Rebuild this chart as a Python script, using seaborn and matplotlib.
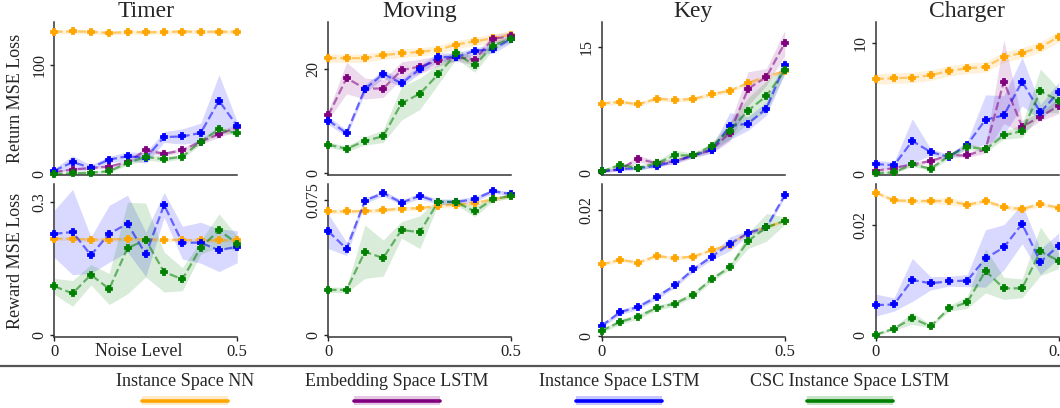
import matplotlib
matplotlib.use("Agg")
import matplotlib.pyplot as plt
import pandas as pd
import seaborn as sns
from matplotlib.lines import Line2D
from matplotlib.patches import Rectangle
from matplotlib.colors import to_rgba

sns.set_theme(style="ticks")
plt.rcParams["font.family"] = ["Liberation Serif", "DejaVu Serif"]

# ---------------------------------------------------------------- data
noise = [0.0, 0.05, 0.10, 0.15, 0.20, 0.25, 0.30, 0.35, 0.40, 0.45, 0.50]

methods = ["Instance Space NN", "Embedding Space LSTM",
           "Instance Space LSTM", "CSC Instance Space LSTM"]
colors = ["orange", "purple", "blue", "green"]
envs = ["Timer", "Moving", "Key", "Charger"]

# Timer -- return loss (mean, half-width of band)
timer_ret_nn = [131.0, 131.3, 131.0, 129.8, 130.8, 130.5, 130.8, 131.2, 131.0, 131.0, 131.0]
timer_ret_nn_sd = [2.0] * 11
timer_ret_emb = [1.8, 4.0, 5.5, 6.8, 11.0, 21.8, 18.5, 21.8, 29.8, 36.6, 42.8]
timer_ret_emb_sd = [1.0, 1.5, 1.5, 1.5, 2.0, 2.5, 2.0, 2.0, 2.5, 3.0, 3.0]
timer_ret_lstm = [3.0, 10.8, 5.8, 13.2, 16.3, 14.8, 34.0, 34.5, 37.8, 67.4, 44.0]
timer_ret_lstm_sd = [2.0, 6.0, 2.5, 3.0, 4.0, 5.0, 5.0, 7.0, 9.0, 24.0, 4.0]
timer_ret_csc = [0.0, 0.6, 1.2, 2.5, 10.0, 15.7, 13.5, 16.0, 29.8, 41.0, 37.5]
timer_ret_csc_sd = [0.8, 1.0, 1.0, 1.5, 2.0, 3.0, 2.5, 2.0, 2.5, 3.0, 2.0]

# Timer -- reward loss
timer_rew_nn = [0.217, 0.217, 0.215, 0.215, 0.217, 0.215, 0.215, 0.214, 0.214, 0.213, 0.214]
timer_rew_nn_sd = [0.004] * 11
timer_rew_lstm = [0.228, 0.232, 0.180, 0.228, 0.251, 0.182, 0.293, 0.208, 0.208, 0.191, 0.199]
timer_rew_lstm_sd = [0.053, 0.096, 0.041, 0.064, 0.064, 0.050, 0.028, 0.037, 0.046, 0.048, 0.036]
timer_rew_csc = [0.110, 0.094, 0.136, 0.104, 0.196, 0.214, 0.142, 0.126, 0.197, 0.236, 0.206]
timer_rew_csc_sd = [0.018, 0.029, 0.023, 0.035, 0.103, 0.083, 0.045, 0.026, 0.015, 0.037, 0.017]

# Moving -- return loss
moving_ret_nn = [22.0, 22.0, 22.0, 22.6, 22.9, 23.2, 23.6, 24.6, 25.2, 25.8, 26.5]
moving_ret_nn_sd = [0.8] * 11
moving_ret_emb = [11.1, 18.2, 16.2, 16.2, 19.7, 20.4, 21.5, 22.2, 21.7, 25.7, 26.2]
moving_ret_emb_sd = [0.8, 3.0, 2.0, 1.7, 1.6, 1.4, 1.0, 0.8, 1.0, 0.8, 0.8]
moving_ret_lstm = [10.1, 7.7, 16.1, 19.0, 17.2, 19.9, 22.2, 22.2, 23.4, 23.7, 25.7]
moving_ret_lstm_sd = [0.8, 0.6, 0.8, 0.8, 0.8, 0.8, 0.8, 0.8, 0.6, 0.8, 0.8]
moving_ret_csc = [5.5, 4.7, 6.2, 7.1, 13.4, 15.2, 18.9, 22.9, 20.6, 24.4, 25.7]
moving_ret_csc_sd = [0.5, 0.5, 0.8, 1.2, 3.2, 3.0, 1.9, 1.0, 1.3, 0.8, 0.6]

# Moving -- reward loss
moving_rew_nn = [0.0686, 0.0686, 0.0688, 0.0693, 0.0702, 0.0704, 0.0717, 0.0724, 0.0732, 0.0754, 0.0772]
moving_rew_nn_sd = [0.0012] * 11
moving_rew_lstm = [0.0576, 0.0479, 0.0746, 0.0787, 0.0735, 0.0772, 0.0739, 0.0739, 0.0754, 0.0799, 0.0781]
moving_rew_lstm_sd = [0.0096, 0.0037, 0.0015, 0.0015, 0.0015, 0.0015, 0.0015, 0.0015, 0.0015, 0.0012, 0.0012]
moving_rew_csc = [0.0252, 0.0252, 0.0463, 0.0428, 0.0584, 0.0571, 0.0739, 0.0737, 0.0686, 0.0754, 0.0772]
moving_rew_csc_sd = [0.0015, 0.0015, 0.0148, 0.0100, 0.0046, 0.0091, 0.0016, 0.0015, 0.0029, 0.0012, 0.0012]

# Key -- return loss
key_ret_nn = [8.25, 8.44, 8.17, 8.83, 8.68, 8.79, 9.34, 9.78, 10.68, 11.43, 12.1]
key_ret_nn_sd = [0.25] * 11
key_ret_emb = [0.24, 0.47, 1.73, 1.18, 1.41, 2.12, 2.75, 4.79, 10.0, 11.4, 15.4]
key_ret_emb_sd = [0.15, 0.2, 0.4, 0.3, 0.3, 0.3, 0.4, 1.0, 2.0, 1.0, 1.5]
key_ret_lstm = [0.24, 0.47, 0.63, 0.86, 1.41, 2.12, 2.75, 5.58, 5.89, 7.66, 12.76]
key_ret_lstm_sd = [0.15, 0.2, 0.2, 0.2, 0.2, 0.2, 0.3, 1.6, 0.8, 0.8, 1.0]
key_ret_csc = [0.24, 0.98, 0.63, 1.18, 2.12, 2.12, 3.22, 5.06, 7.42, 9.15, 12.17]
key_ret_csc_sd = [0.15, 0.3, 0.3, 0.3, 0.6, 0.3, 0.4, 1.0, 1.5, 1.8, 0.4]

# Key -- reward loss
key_rew_nn = [0.01132, 0.01205, 0.01163, 0.01268, 0.01232, 0.01258, 0.01358, 0.01447, 0.01632, 0.01721, 0.01826]
key_rew_nn_sd = [0.0003] * 11
key_rew_lstm = [0.00158, 0.00374, 0.00458, 0.00616, 0.0080, 0.01053, 0.01253, 0.01458, 0.01632, 0.01721, 0.02232]
key_rew_lstm_sd = [0.0003, 0.0004, 0.0004, 0.0004, 0.0004, 0.0004, 0.0005, 0.0011, 0.0004, 0.0004, 0.0004]
key_rew_csc = [0.00079, 0.00221, 0.00305, 0.00442, 0.00511, 0.00653, 0.00895, 0.01089, 0.01505, 0.01721, 0.01826]
key_rew_csc_sd = [0.0003, 0.0004, 0.0004, 0.0004, 0.0004, 0.0004, 0.0004, 0.0004, 0.0012, 0.0022, 0.0006]

# Charger -- return loss
charger_ret_nn = [7.24, 7.30, 7.35, 7.53, 7.86, 8.06, 8.16, 8.93, 9.23, 9.69, 10.46]
charger_ret_nn_sd = [0.4] * 11
charger_ret_emb = [0.23, 0.43, 0.71, 0.97, 1.40, 1.40, 1.86, 7.04, 3.60, 4.36, 5.18]
charger_ret_emb_sd = [0.1, 0.15, 0.15, 0.15, 0.15, 0.15, 0.3, 3.2, 0.5, 0.3, 0.6]
charger_ret_lstm = [0.74, 0.64, 2.50, 1.66, 1.28, 2.22, 4.13, 4.46, 7.04, 4.69, 6.25]
charger_ret_lstm_sd = [0.3, 0.25, 1.7, 0.25, 0.2, 0.25, 1.9, 1.5, 1.85, 0.6, 0.75]
charger_ret_csc = [0.05, 0.10, 0.71, 0.38, 1.35, 2.07, 1.86, 2.93, 3.27, 6.30, 5.59]
charger_ret_csc_sd = [0.1, 0.1, 0.15, 0.15, 0.2, 0.2, 0.2, 0.3, 0.5, 1.7, 0.9]

# Charger -- reward loss
charger_rew_nn = [0.02584, 0.02444, 0.02432, 0.02432, 0.02432, 0.02365, 0.02432, 0.02322, 0.02286, 0.02377, 0.0231]
charger_rew_nn_sd = [0.0003, 0.0004, 0.0004, 0.0004, 0.0007, 0.0004, 0.0004, 0.0004, 0.0005, 0.0004, 0.0004]
charger_rew_lstm = [0.00547, 0.00559, 0.01003, 0.00942, 0.00979, 0.00991, 0.01392, 0.01593, 0.02018, 0.01331, 0.01623]
charger_rew_lstm_sd = [0.002, 0.0012, 0.0039, 0.0012, 0.0009, 0.0011, 0.0052, 0.0041, 0.0036, 0.0023, 0.0023]
charger_rew_csc = [0.00012, 0.00122, 0.0031, 0.00164, 0.00486, 0.00596, 0.01167, 0.00851, 0.00851, 0.0152, 0.0135]
charger_rew_csc_sd = [0.0002, 0.0003, 0.0011, 0.0003, 0.0005, 0.0011, 0.004, 0.002, 0.0017, 0.0044, 0.0014]

# axis ranges and tick labels per panel
ret_ylim = [(-1.0, 140.0), (-0.3, 28.9), (-0.2, 17.9), (-0.1, 11.6)]
ret_ticks = [100, 20, 15, 10]
ret_ticklabels = ["100", "20", "15", "10"]
rew_ylim = [(-0.004, 0.34), (-0.0009, 0.0838), (-0.0002, 0.0241), (-0.0003, 0.0274)]
rew_ticks = [0.3, 0.075, 0.02, 0.02]
rew_ticklabels = ["0.3", "0.075", "0.02", "0.02"]

panels = {
    ("Timer", "ret"): [(timer_ret_nn, timer_ret_nn_sd), (timer_ret_emb, timer_ret_emb_sd),
                       (timer_ret_lstm, timer_ret_lstm_sd), (timer_ret_csc, timer_ret_csc_sd)],
    ("Timer", "rew"): [(timer_rew_nn, timer_rew_nn_sd), None,
                       (timer_rew_lstm, timer_rew_lstm_sd), (timer_rew_csc, timer_rew_csc_sd)],
    ("Moving", "ret"): [(moving_ret_nn, moving_ret_nn_sd), (moving_ret_emb, moving_ret_emb_sd),
                        (moving_ret_lstm, moving_ret_lstm_sd), (moving_ret_csc, moving_ret_csc_sd)],
    ("Moving", "rew"): [(moving_rew_nn, moving_rew_nn_sd), None,
                        (moving_rew_lstm, moving_rew_lstm_sd), (moving_rew_csc, moving_rew_csc_sd)],
    ("Key", "ret"): [(key_ret_nn, key_ret_nn_sd), (key_ret_emb, key_ret_emb_sd),
                     (key_ret_lstm, key_ret_lstm_sd), (key_ret_csc, key_ret_csc_sd)],
    ("Key", "rew"): [(key_rew_nn, key_rew_nn_sd), None,
                     (key_rew_lstm, key_rew_lstm_sd), (key_rew_csc, key_rew_csc_sd)],
    ("Charger", "ret"): [(charger_ret_nn, charger_ret_nn_sd), (charger_ret_emb, charger_ret_emb_sd),
                         (charger_ret_lstm, charger_ret_lstm_sd), (charger_ret_csc, charger_ret_csc_sd)],
    ("Charger", "rew"): [(charger_rew_nn, charger_rew_nn_sd), None,
                         (charger_rew_lstm, charger_rew_lstm_sd), (charger_rew_csc, charger_rew_csc_sd)],
}

# ---------------------------------------------------------------- figure
W, H = 1060, 408
fig = plt.figure(figsize=(W / 100, H / 100), dpi=100)

col_left = [54.3, 328.3, 601.7, 875.7]
ax_w = 183.0
row_top = [22.0, 184.0]
ax_h = 153.0

TICK_FS = 11.5
LABEL_FS = 13
TITLE_FS = 17


def draw_panel(ax, series):
    rows = []
    for name, s in zip(methods, series):
        if s is None:
            continue
        mean, sd = s
        for x, m, d in zip(noise, mean, sd):
            rows.append({"noise": x, "loss": m, "lo": m - d, "hi": m + d, "method": name})
    df = pd.DataFrame(rows)
    present = [m for m in methods if m in set(df["method"])]
    pal = {m: c for m, c in zip(methods, colors)}

    for name in present:
        sub = df[df["method"] == name]
        ax.fill_between(sub["noise"], sub["lo"], sub["hi"], color=pal[name],
                        alpha=0.15, linewidth=0, zorder=1)

    sns.lineplot(data=df, x="noise", y="loss", hue="method", hue_order=present,
                 palette=pal, errorbar=None, estimator=None, sort=False,
                 linestyle="--", linewidth=1.6, legend=False, ax=ax, zorder=3)
    for line, name in zip(ax.get_lines(), present):
        c = pal[name]
        line.set_color(to_rgba(c, 0.55))
        line.set_marker("P")
        line.set_markersize(4.6)
        line.set_markeredgewidth(1.3)
        line.set_markerfacecolor(c)
        line.set_markeredgecolor(c)
        line.set_clip_on(False)


for ci, env in enumerate(envs):
    for ri, kind in enumerate(["ret", "rew"]):
        left = col_left[ci] / W
        bottom = 1 - (row_top[ri] + ax_h) / H
        ax = fig.add_axes([left, bottom, ax_w / W, ax_h / H])
        draw_panel(ax, panels[(env, kind)])

        ax.set_xlim(0, 0.5)
        if kind == "ret":
            ax.set_ylim(*ret_ylim[ci])
            ax.set_yticks([0, ret_ticks[ci]])
            ax.set_yticklabels(["0", ret_ticklabels[ci]], rotation=90, va="center",
                               fontsize=TICK_FS)
            ax.set_xticks([])
            ax.set_title(env, fontsize=TITLE_FS, pad=3)
        else:
            ax.set_ylim(*rew_ylim[ci])
            ax.set_yticks([0, rew_ticks[ci]])
            ax.set_yticklabels(["0", rew_ticklabels[ci]], rotation=90, va="center",
                               fontsize=TICK_FS)
            ax.set_xticks([0, 0.5])
            ax.set_xticklabels(["0", "0.5"], fontsize=TICK_FS + 0.5)
        ax.tick_params(axis="both", length=3, width=1, pad=2, colors="#222222")
        ax.set_xlabel("")
        ax.set_ylabel("")
        sns.despine(ax=ax)
        for sp in ("left", "bottom"):
            ax.spines[sp].set_linewidth(1.1)
            ax.spines[sp].set_color("#333333")
        ax.set_facecolor("none")

        if ci == 0:
            ax.set_ylabel("Return MSE Loss" if kind == "ret" else "Reward MSE Loss",
                          fontsize=LABEL_FS)
            ax.yaxis.set_label_coords(-0.165, 0.5)
            if kind == "rew":
                ax.set_xlabel("Noise Level", fontsize=LABEL_FS)
                ax.xaxis.set_label_coords(0.46, -0.098)
                ax.xaxis.label.set_va("center")

# ---------------------------------------------------------------- legend strip
fig.add_artist(Line2D([0, 1], [1 - 366 / H, 1 - 366 / H], transform=fig.transFigure,
                      color="#555555", linewidth=1.6))
legend_cx = [185, 397, 619, 850]
for name, c, cx in zip(methods, colors, legend_cx):
    fig.text(cx / W, 1 - 382 / H, name, ha="center", va="center", fontsize=LABEL_FS)
    fig.add_artist(Rectangle(((cx - 43) / W, 1 - 405 / H), 86 / W, 9 / H,
                             transform=fig.transFigure, facecolor=c, alpha=0.22,
                             edgecolor="none"))
    fig.add_artist(Line2D([(cx - 43) / W, (cx + 43) / W], [1 - 400.5 / H, 1 - 400.5 / H],
                          transform=fig.transFigure, color=c, linewidth=2.6))

fig.savefig("out.png", dpi=100)
